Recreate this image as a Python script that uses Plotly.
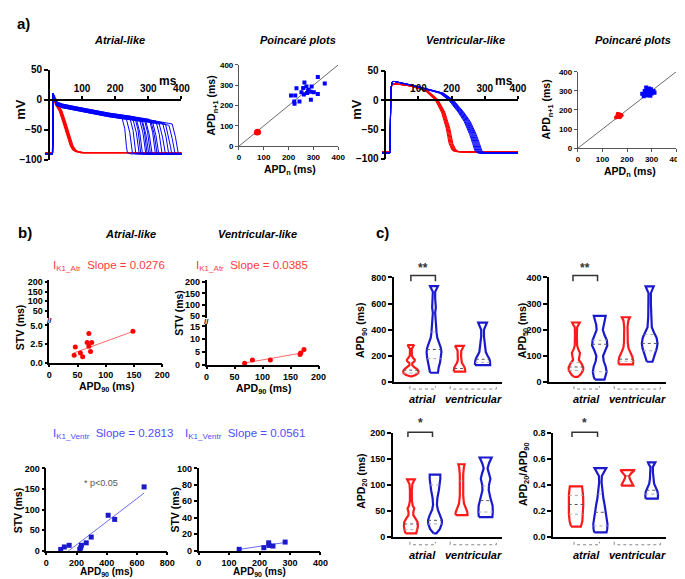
import numpy as np
import plotly.graph_objects as go

W, H = 685, 579
def X(px): return px / W
def Y(py): return 1 - py / H

FONT = "Liberation Sans, Arial, sans-serif"
RED, BLUE = "#ff0000", "#0000ff"
VRED, VBLUE = "#ff1a1a", "#1a1acc"

# ------------------------- DATA -------------------------
# (a) action potentials, atrial-like cell line
ATR_BLUE_T = [-12, 11, 13, 17, 22, 40, 85, 130, 180, 230, 280, 320, 360, 390]
ATR_BLUE_V = [-90, -90, 11, 0, -6, -10, -15, -20, -25, -29, -33, -37, -41, -44]
ATR_BLUE_END = [237, 252, 262, 272, 277, 282, 292, 296, 301, 306, 311, 321, 326, 331, 341, 351, 361, 370, 380, 390]
ATR_BLUE_DV = [2, -3, 1, -2, 3, 0, -1, 2, -3, 1, -2, 3, 0, -1, 2, -2, 1, 0, -1, 2]
ATR_RED_T = [-12, 11, 13, 17, 25, 35, 43, 50, 58, 64, 69, 76, 84, 100, 400]
ATR_RED_V = [-88, -88, 10, 2, -9, -18, -31, -44, -58, -70, -77, -83, -86, -88, -88]
ATR_RED_SHIFT = [-4, -2, 0, 2, 4]
# ventricular-like
VEN_BLUE_T = [-10, 14, 17, 21, 26, 40, 77, 120, 175, 205, 235, 255, 273, 283, 290, 300, 400]
VEN_BLUE_V = [-90, -90, 20, 31, 32, 30, 26, 20, 12, 0, -20, -36, -58, -74, -86, -90, -90]
VEN_BLUE_APD = [270, 273, 276, 279, 282, 285, 288, 291]
VEN_RED_T = [-10, 14, 17, 21, 40, 77, 125, 155, 175, 190, 199, 207, 214, 230, 400]
VEN_RED_V = [-88, -88, 20, 28, 27, 24, 16, 1, -20, -48, -74, -84, -87, -88, -88]
VEN_RED_APD = [207, 210, 213, 216, 219]

# Poincare plots
PA_ATR_BLUE_X = [210, 223, 224, 227, 232, 244, 252, 259, 262, 264, 272, 275, 279, 281, 289, 290, 293, 302, 318, 318, 346]
PA_ATR_BLUE_Y = [249, 220, 209, 249, 285, 220, 265, 287, 255, 314, 294, 262, 272, 278, 268, 228, 294, 265, 257, 340, 309]
PA_ATR_RED_X = [72, 75, 77]
PA_ATR_RED_Y = [68, 71, 69]
PA_VEN_BLUE_X = [262, 268, 272, 275, 278, 280, 282, 285, 287, 288, 290, 292, 294, 296, 298, 300, 303, 308, 312, 278, 286, 295]
PA_VEN_BLUE_Y = [285, 272, 300, 282, 292, 276, 305, 288, 300, 278, 312, 290, 284, 296, 308, 286, 294, 300, 290, 318, 281, 274]
PA_VEN_RED_X = [155, 160, 163, 165, 167, 168, 170, 171, 173, 175, 178, 162]
PA_VEN_RED_Y = [160, 168, 163, 172, 166, 178, 170, 162, 175, 168, 172, 180]
IDENTITY = [0, 400]

# (b) STV vs APD90
B_ATR_ATR_X = [44, 46, 55, 59, 67, 70, 70, 73, 75, 148]
B_ATR_ATR_Y = [1.0, 2.1, 1.3, 0.8, 2.7, 3.9, 2.2, 1.5, 2.7, 4.2]
B_VEN_ATR_X = [68, 82, 114, 167, 168, 174]
B_VEN_ATR_Y = [0.5, 1.8, 1.8, 4.0, 4.6, 5.9]
B_ATR_VEN_X = [95, 119, 151, 221, 227, 232, 264, 297, 409, 452, 647]
B_ATR_VEN_Y = [3, 9, 13, 3, 7, 13, 19, 33, 86, 76, 155]
B_VEN_VEN_X = [133, 214, 230, 231, 244, 284]
B_VEN_VEN_Y = [1.6, 3.6, 9.5, 6.3, 5.6, 10.4]
B_SLOPES = [0.0276, 0.0385, 0.2813, 0.0561]
B_INTERCEPTS = [0.1, -2.0, -42.0, -6.0]

# (c) violin outlines: (value, half-width in category units)
C90 = {
    "RA": [(45, .04), (55, .2), (70, .32), (85, .33), (100, .27), (115, .14), (130, .06), (145, .06), (160, .16), (172, .17),
           (185, .1), (200, .05), (230, .04), (255, .04), (272, .1), (284, .14)],
    "BA": [(72, .17), (80, .18), (110, .2), (150, .26), (190, .3), (230, .32), (260, .3), (300, .22), (340, .14), (380, .11),
           (430, .08), (480, .06), (530, .05), (570, .08), (600, .08), (640, .05), (690, .05), (715, .12), (733, .17)],
    "RV": [(80, .25), (90, .25), (110, .23), (130, .17), (150, .1), (170, .07), (200, .07), (240, .08), (262, .14), (277, .19)],
    "BV": [(130, .33), (140, .33), (160, .32), (180, .29), (200, .22), (230, .14), (260, .12), (300, .08), (350, .06), (400, .06),
           (435, .13), (455, .19)],
}
C90_Q = {"RA": [(92, .33, 1), (70, .32, 0)], "BA": [(250, .31, 1), (180, .29, 0), (385, .11, 0)],
         "RV": [(105, .23, 1)], "BV": [(175, .3, 1), (152, .32, 0)]}
C50 = {
    "RA": [(20, .08), (30, .2), (45, .3), (55, .31), (70, .24), (85, .12), (100, .15), (112, .17), (125, .1), (140, .05),
           (180, .04), (210, .05), (220, .12), (228, .16)],
    "BA": [(10, .2), (20, .25), (40, .29), (60, .25), (80, .17), (100, .14), (120, .22), (140, .32), (160, .3), (180, .2),
           (200, .13), (220, .15), (240, .22), (253, .25)],
    "RV": [(68, .3), (80, .31), (95, .28), (110, .2), (130, .11), (150, .08), (180, .07), (210, .07), (235, .1), (248, .17)],
    "BV": [(78, .12), (90, .15), (110, .23), (130, .3), (148, .33), (170, .29), (190, .18), (210, .09), (250, .06), (300, .05),
           (340, .05), (355, .12), (366, .17)],
}
C50_Q = {"RA": [(58, .31, 1), (45, .3, 0), (75, .23, 0)], "BA": [(145, .32, 1), (40, .29, 0), (160, .3, 0)],
         "RV": [(88, .29, 1), (80, .31, 0)], "BV": [(148, .33, 1), (120, .27, 0), (182, .22, 0)]}
C20 = {
    "RA": [(7, .22), (12, .26), (20, .29), (28, .28), (35, .2), (42, .1), (48, .1), (55, .14), (60, .08), (70, .04), (90, .04),
           (102, .06), (108, .13), (111, .16)],
    "BA": [(7, .06), (15, .2), (25, .28), (32, .29), (42, .22), (52, .12), (62, .08), (75, .1), (90, .16), (102, .2), (112, .22),
           (120, .22)],
    "RV": [(42, .25), (48, .24), (55, .18), (65, .1), (80, .07), (100, .06), (120, .07), (135, .1), (140, .13)],
    "BV": [(38, .28), (48, .3), (60, .29), (75, .2), (90, .13), (100, .14), (112, .2), (122, .15), (132, .08), (142, .14),
           (150, .22), (153, .25)],
}
C20_Q = {"RA": [(25, .28, 1), (14, .27, 0)], "BA": [(32, .29, 1), (25, .28, 0), (100, .2, 0)],
         "RV": [(108, .07, 0)], "BV": [(70, .22, 1), (48, .3, 0), (98, .13, 0)]}
CR = {
    "RA": [(.08, .2), (.12, .26), (.18, .29), (.25, .3), (.32, .29), (.36, .27), (.39, .25)],
    "BA": [(.035, .25), (.06, .28), (.1, .29), (.15, .26), (.2, .22), (.25, .17), (.3, .12), (.36, .08), (.42, .05), (.47, .06),
           (.5, .15), (.53, .24)],
    "RV": [(.395, .25), (.42, .18), (.45, .1), (.47, .08), (.49, .16), (.51, .27), (.515, .28)],
    "BV": [(.295, .25), (.32, .26), (.35, .24), (.38, .17), (.41, .1), (.45, .07), (.5, .05), (.54, .05), (.56, .12), (.575, .15)],
}
CR_Q = {"RA": [(.25, .3, 1), (.175, .29, 0), (.32, .29, 0)], "BA": [(.19, .23, 1), (.085, .29, 0), (.33, .1, 0)],
        "RV": [(.47, .08, 1)], "BV": [(.36, .22, 1), (.33, .26, 0)]}
VIOLIN_POS = {"RA": 1, "BA": 2, "RV": 3.1, "BV": 4.1}
VIOLIN_COL = {"RA": VRED, "BA": VBLUE, "RV": VRED, "BV": VBLUE}

# ------------------------- FIGURE -------------------------
fig = go.Figure()
layout = {}
annotations = []
shapes = []

def tfont(size=9):
    return dict(family=FONT, size=size, color="black", weight="bold")

def axis_pair(n, xdom, ydom, xr, yr, xo=None, yo=None):
    xs = "x" if n == 1 else f"x{n}"
    ys = "y" if n == 1 else f"y{n}"
    base = dict(showgrid=False, zeroline=False, showline=True, linecolor="black", linewidth=1.5,
                ticks="outside", ticklen=3, tickwidth=1.5, tickcolor="black", tickfont=tfont(9))
    xa = dict(base, domain=[X(xdom[0]), X(xdom[1])], range=xr, anchor=ys)
    ya = dict(base, domain=[Y(ydom[1]), Y(ydom[0])], range=yr, anchor=xs)
    if xo: xa.update(xo)
    if yo: ya.update(yo)
    sfx = "" if n == 1 else str(n)
    layout["xaxis" + sfx] = xa
    layout["yaxis" + sfx] = ya
    return xs, ys

def ann(text, xpx, ypx, size=11, color="black", angle=0, xanchor="center", yanchor="middle"):
    annotations.append(dict(text=text, x=X(xpx), y=Y(ypx), xref="paper", yref="paper", showarrow=False,
                            font=dict(family=FONT, size=size, color=color), textangle=angle,
                            xanchor=xanchor, yanchor=yanchor))

def path(pts, color="#333", width=1.5, dash="solid"):
    d = "M " + " L ".join(f"{X(a):.5f},{Y(b):.5f}" for a, b in pts)
    shapes.append(dict(type="path", path=d, xref="paper", yref="paper", line=dict(color=color, width=width, dash=dash)))

def line(xs, ys, x, y, color, width=1, mode="lines", **kw):
    fig.add_trace(go.Scatter(x=x, y=y, xaxis=xs, yaxis=ys, mode=mode, line=dict(color=color, width=width),
                             hoverinfo="skip", **kw))

# ---- (a) atrial AP ----
apx = dict(anchor="free", position=Y(87.7), side="top", tickvals=[100, 200, 300, 400], tickfont=tfont(10), ticklen=3)
apy = dict(anchor="free", position=X(38.5), tickvals=[-100, -50, 0, 50], tickfont=tfont(10), ticklen=4)
xs, ys = axis_pair(1, (34.5, 173.5), (57, 149), [-12, 400], [-100, 50], apx, apy)
for sh in ATR_RED_SHIFT:
    t = [tt + sh if 17 <= tt < 400 else tt for tt in ATR_RED_T]
    line(xs, ys, t, ATR_RED_V, RED, 1.2)
for te, dv in zip(ATR_BLUE_END, ATR_BLUE_DV):
    tt = [a for a in ATR_BLUE_T if a < te - 18]
    vv = [v + dv if a >= 22 else v for a, v in zip(ATR_BLUE_T, ATR_BLUE_V) if a < te - 18]
    kv = float(np.interp(te - 18, ATR_BLUE_T, ATR_BLUE_V)) + dv
    tt += [te - 18, te - 8, te - 3, te, te + 10, 400]
    vv += [kv, kv - 22, -78, -88, -90, -90]
    line(xs, ys, tt, vv, BLUE, 1)

# ---- (a) ventricular AP ----
apx3 = dict(apx); apy3 = dict(apy, position=X(381))
xs, ys = axis_pair(3, (377.6, 516), (58, 148), [-10, 400], [-100, 50], apx3, apy3)
for apd in VEN_RED_APD:
    s = (apd - 21) / (214 - 21)
    t = [21 + (a - 21) * s if 21 < a < 400 else a for a in VEN_RED_T]
    line(xs, ys, t, VEN_RED_V, RED, 1.1)
for apd in VEN_BLUE_APD:
    s = (apd - 26) / (290 - 26)
    t = [26 + (a - 26) * s if 26 < a < 400 else a for a in VEN_BLUE_T]
    line(xs, ys, t, VEN_BLUE_V, BLUE, 1)

# ---- (a) Poincare plots ----
pox = dict(linewidth=1, linecolor="#555", tickwidth=1, ticklen=3, tickcolor="#555", tickfont=tfont(8),
           tickvals=[0, 100, 200, 300, 400])
xs, ys = axis_pair(2, (232, 333), (52, 135), [0, 400], [0, 400], pox, dict(pox))
line(xs, ys, IDENTITY, IDENTITY, "#444", 0.8)
fig.add_trace(go.Scatter(x=PA_ATR_BLUE_X, y=PA_ATR_BLUE_Y, xaxis=xs, yaxis=ys, mode="markers",
                         marker=dict(symbol="square", size=4, color=BLUE), hoverinfo="skip"))
fig.add_trace(go.Scatter(x=PA_ATR_RED_X, y=PA_ATR_RED_Y, xaxis=xs, yaxis=ys, mode="markers",
                         marker=dict(size=6, color=RED), hoverinfo="skip"))
xs, ys = axis_pair(4, (577, 677), (59, 137), [0, 400], [0, 400], pox, dict(pox))
line(xs, ys, IDENTITY, IDENTITY, "#444", 0.8)
fig.add_trace(go.Scatter(x=PA_VEN_BLUE_X, y=PA_VEN_BLUE_Y, xaxis=xs, yaxis=ys, mode="markers",
                         marker=dict(symbol="square", size=4, color=BLUE), hoverinfo="skip"))
fig.add_trace(go.Scatter(x=PA_VEN_RED_X, y=PA_VEN_RED_Y, xaxis=xs, yaxis=ys, mode="markers",
                         marker=dict(size=4, color=RED), hoverinfo="skip"))

# ---- (b) STV plots ----
hidden_x = dict(visible=False, tickvals=[], showticklabels=False)
def fit(xs, ys, xd, k, color):
    x0, x1 = min(xd), max(xd)
    line(xs, ys, [x0, x1], [B_INTERCEPTS[k] + B_SLOPES[k] * x0, B_INTERCEPTS[k] + B_SLOPES[k] * x1], color, 1)

xs, ys = axis_pair(5, (39, 154), (272, 310), [0, 200], [14, 210], hidden_x, dict(tickvals=[50, 100, 150, 200]))
line(xs, ys, [None], [None], RED)
xs, ys = axis_pair(6, (39, 154), (316, 356), [0, 200], [0, 5.26],
                   dict(tickvals=[0, 50, 100, 150, 200]), dict(tickvals=[0, 2.5, 5], tickformat=".1f"))
fit(xs, ys, B_ATR_ATR_X, 0, "#ff6a6a")
fig.add_trace(go.Scatter(x=B_ATR_ATR_X, y=B_ATR_ATR_Y, xaxis=xs, yaxis=ys, mode="markers",
                         marker=dict(size=5, color=RED), hoverinfo="skip", cliponaxis=False))

xs, ys = axis_pair(7, (199, 313), (272, 310), [0, 200], [42, 208], hidden_x, dict(tickvals=[50, 100, 150, 200]))
line(xs, ys, [None], [None], RED)
xs, ys = axis_pair(8, (199, 313), (317, 358), [0, 200], [0, 15.8],
                   dict(tickvals=[0, 50, 100, 150, 200]), dict(tickvals=[0, 5, 10, 15]))
fit(xs, ys, B_VEN_ATR_X, 1, "#ff6a6a")
fig.add_trace(go.Scatter(x=B_VEN_ATR_X, y=B_VEN_ATR_Y, xaxis=xs, yaxis=ys, mode="markers",
                         marker=dict(size=5, color=RED), hoverinfo="skip", cliponaxis=False))

xs, ys = axis_pair(9, (36, 159), (464, 548), [0, 800], [0, 200],
                   dict(tickvals=[0, 200, 400, 600, 800]), dict(tickvals=[0, 50, 100, 150, 200]))
fit(xs, ys, B_ATR_VEN_X, 2, "#6a6af0")
fig.add_trace(go.Scatter(x=B_ATR_VEN_X, y=B_ATR_VEN_Y, xaxis=xs, yaxis=ys, mode="markers",
                         marker=dict(symbol="square", size=5, color=VBLUE), hoverinfo="skip", cliponaxis=False))
xs, ys = axis_pair(10, (191, 315), (464, 548), [0, 400], [0, 100],
                   dict(tickvals=[0, 100, 200, 300, 400]), dict(tickvals=[0, 20, 40, 60, 80, 100]))
fit(xs, ys, B_VEN_VEN_X, 3, "#6a6af0")
fig.add_trace(go.Scatter(x=B_VEN_VEN_X, y=B_VEN_VEN_Y, xaxis=xs, yaxis=ys, mode="markers",
                         marker=dict(symbol="square", size=5, color=VBLUE), hoverinfo="skip", cliponaxis=False))

# ---- (c) violins ----
cx = dict(showticklabels=False, ticks="", tickvals=[], linewidth=2)
def violins(n, xdom, ydom, xr, yr, yticks, data, quart, fmt=None):
    yo = dict(tickvals=yticks, linewidth=2, ticklen=4, tickfont=tfont(9))
    if fmt: yo["tickformat"] = fmt
    xs, ys = axis_pair(n, xdom, ydom, xr, yr, dict(cx), yo)
    for key, outline in data.items():
        c = VIOLIN_POS[key]
        v = [p[0] for p in outline]; w = [p[1] for p in outline]
        x = [c - a for a in w] + [c + a for a in w[::-1]] + [c - w[0]]
        y = v + v[::-1] + [v[0]]
        line(xs, ys, x, y, VIOLIN_COL[key], 2.2)
        for val, hw, med in quart.get(key, []):
            line(xs, ys, [c - hw, c + hw], [val, val], "#555" if med else "#aaa", 1, line_dash="dot")

violins(11, (390, 500), (269, 376), [0.278, 4.95], [0, 800], [0, 200, 400, 600, 800], C90, C90_Q)
violins(12, (548, 667), (269, 376), [-0.116, 4.80], [0, 400], [0, 100, 200, 300, 400], C50, C50_Q)
violins(13, (389, 500), (428, 534), [0.265, 4.79], [0, 200], [0, 50, 100, 150, 200], C20, C20_Q)
violins(14, (552, 667), (428, 534), [0.073, 4.70], [0, 0.8], [0, 0.2, 0.4, 0.6, 0.8], CR, CR_Q, ".1f")

# significance brackets and group brackets
for x0, x1, ytop, ybot, txt, ty in [(407, 432, 267, 273, "**", 259), (572, 597, 267, 273, "**", 259),
                                    (404, 429, 427, 432, "*", 418), (571, 597, 427, 432, "*", 418)]:
    path([(x0, ybot), (x0, ytop), (x1, ytop), (x1, ybot)], "#333", 1.5)
    ann(f"<b>{txt}</b>", (x0 + x1) / 2, ty, 12, "#333")
for yb, yl in [(383, 393), (542, 552)]:
    for (a0, a1, b0, b1) in [(406, 432, 447, 494), (573, 599, 614, 661)]:
        path([(a0, yb - 3), (a0, yb), (a1, yb), (a1, yb - 3)], "#888", 1, "dot")
        path([(b0, yb - 3), (b0, yb), (b1, yb), (b1, yb - 3)], "#888", 1, "dot")
        ann("<b><i>atrial</i></b>", (a0 + a1) / 2, yl, 11)
        ann("<b><i>ventricular</i></b>", (b0 + b1) / 2, yl, 11)

# ---- text ----
ann("<b>a)</b>", 13, 10, 15)
ann("<b>b)</b>", 14, 223, 15)
ann("<b>c)</b>", 378, 223, 15)
ann("<b><i>Atrial-like</i></b>", 110, 27, 11)
ann("<b><i>Poincaré plots</i></b>", 292, 27, 11)
ann("<b><i>Ventricular-like</i></b>", 463, 27, 11)
ann("<b><i>Poincaré plots</i></b>", 633, 27, 11)
ann("<b>mV</b>", 10, 97, 13, angle=-90)
ann("<b>mV</b>", 352, 97, 13, angle=-90)
ann("<b>ms</b>", 160, 68, 12)
ann("<b>ms</b>", 502, 68, 12)
ann("<b>APD<sub>n+1</sub> (ms)</b>", 205, 93, 10.5, angle=-90)
ann("<b>APD<sub>n+1</sub> (ms)</b>", 546, 97, 10.5, angle=-90)
ann("<b>APD<sub>n</sub> (ms)</b>", 284, 159, 10.5)
ann("<b>APD<sub>n</sub> (ms)</b>", 630, 161, 10.5)

ann("<b><i>Atrial-like</i></b>", 122, 225, 11)
ann("<b><i>Ventricular-like</i></b>", 251, 225, 11)
ann("I<sub>K1_Atr</sub>  Slope = 0.0276", 100, 257, 11.5, "#ff3b3b")
ann("I<sub>K1_Atr</sub>  Slope = 0.0385", 245, 257, 11.5, "#ff3b3b")
ann("I<sub>K1_Ventr</sub>  Slope = 0.2813", 104, 429, 11.5, "#4d4dff")
ann("I<sub>K1_Ventr</sub>  Slope = 0.0561", 238, 429, 11.5, "#4d4dff")
ann("<b>STV (ms)</b>", 10, 320, 10.5, angle=-90)
ann("<b>STV (ms)</b>", 171, 305, 10.5, angle=-90)
ann("<b>STV (ms)</b>", 8, 507, 10.5, angle=-90)
ann("<b>STV (ms)</b>", 166, 506, 10.5, angle=-90)
ann("<b>APD<sub>90</sub> (ms)</b>", 97, 381, 10.5)
ann("<b>APD<sub>90</sub> (ms)</b>", 257, 383, 10.5)
ann("<b>APD<sub>90</sub> (ms)</b>", 97, 570, 10)
ann("<b>APD<sub>90</sub> (ms)</b>", 253, 570, 10)
ann("* p<0.05", 92, 479, 9, "#555")
ann("<b>//</b>", 39, 313, 8, "black")
ann("<b>//</b>", 199, 314, 8, "black")

ann("<b>APD<sub>90</sub> (ms)</b>", 357, 323, 10.5, angle=-90)
ann("<b>APD<sub>50</sub> (ms)</b>", 521, 323, 10.5, angle=-90)
ann("<b>APD<sub>20</sub> (ms)</b>", 357, 477, 10.5, angle=-90)
ann("<b>APD<sub>20</sub>/APD<sub>90</sub></b>", 522, 470, 10.5, angle=-90)

fig.update_layout(**layout)
fig.update_layout(width=W, height=H, margin=dict(l=0, r=0, t=0, b=0), showlegend=False,
                  paper_bgcolor="white", plot_bgcolor="rgba(0,0,0,0)",
                  annotations=annotations, shapes=shapes, font=dict(family=FONT))
fig.write_html("out.html")
